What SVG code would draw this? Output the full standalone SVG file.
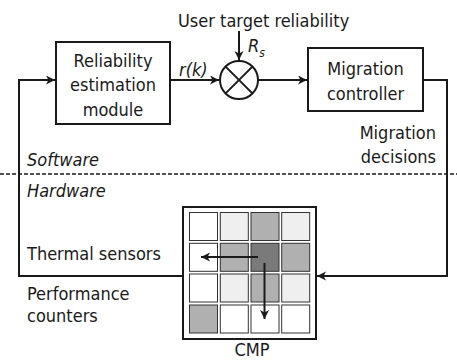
<svg xmlns="http://www.w3.org/2000/svg" width="457" height="360" viewBox="0 0 457 360">
<defs>
<marker id="ah" markerUnits="userSpaceOnUse" markerWidth="10" markerHeight="10" refX="9" refY="4.5" orient="auto">
<path d="M0,0 L9,4.5 L0,9 L2.5,4.5 z" fill="#1a1a1a"/>
</marker>
</defs>
<style>
text{font-family:"DejaVu Sans Condensed","DejaVu Sans",sans-serif;font-stretch:condensed;font-size:18px;fill:#1a1a1a}
.it{font-style:italic}
.c{text-anchor:middle}
.box{fill:#fff;stroke:#1a1a1a;stroke-width:2}
.ln{fill:none;stroke:#1a1a1a;stroke-width:2}
.cell{stroke:#333;stroke-width:1}
.w{fill:#fff}.l{fill:#efefef}.m{fill:#b0b0b0}.d{fill:#7a7a7a}
</style>
<text x="178" y="27">User target reliability</text>
<g id="reliability">
<rect class="box" x="56" y="42" width="114" height="82"/>
<text class="c" x="113" y="66.5">Reliability</text>
<text class="c" x="113" y="91">estimation</text>
<text class="c" x="113" y="115.5">module</text>
</g>
<g id="comparator">
<circle class="ln" cx="239" cy="80" r="19"/>
<path class="ln" d="M225.6,66.6 L252.4,93.4 M252.4,66.6 L225.6,93.4"/>
</g>
<g id="migration">
<rect class="box" x="308" y="48" width="115" height="63"/>
<text class="c" x="365.5" y="75">Migration</text>
<text class="c" x="365.5" y="100">controller</text>
</g>
<g id="cmp">
<rect class="box" x="183" y="207" width="133" height="132"/>
<rect class="cell w" x="189.5" y="212.5" width="28" height="28"/>
<rect class="cell l" x="220.3" y="212.5" width="28" height="28"/>
<rect class="cell m" x="251" y="212.5" width="28" height="28"/>
<rect class="cell l" x="281.7" y="212.5" width="28" height="28"/>
<rect class="cell w" x="189.5" y="243.3" width="28" height="28"/>
<rect class="cell m" x="220.3" y="243.3" width="28" height="28"/>
<rect class="cell d" x="251" y="243.3" width="28" height="28"/>
<rect class="cell m" x="281.7" y="243.3" width="28" height="28"/>
<rect class="cell w" x="189.5" y="274" width="28" height="28"/>
<rect class="cell l" x="220.3" y="274" width="28" height="28"/>
<rect class="cell m" x="251" y="274" width="28" height="28"/>
<rect class="cell l" x="281.7" y="274" width="28" height="28"/>
<rect class="cell m" x="189.5" y="305" width="28" height="28"/>
<rect class="cell w" x="220.3" y="305" width="28" height="28"/>
<rect class="cell w" x="251" y="305" width="28" height="28"/>
<rect class="cell w" x="281.7" y="305" width="28" height="28"/>
<path class="ln" d="M258,257 L201,257" marker-end="url(#ah)"/>
<path class="ln" d="M264.5,263 L264.5,319" marker-end="url(#ah)"/>
<text class="c" x="252" y="356">CMP</text>
</g>
<g id="connectors">
<path class="ln" d="M170,80 L219,80" marker-end="url(#ah)"/>
<path class="ln" d="M239,31 L239,60" marker-end="url(#ah)"/>
<path class="ln" d="M258,80 L307,80" marker-end="url(#ah)"/>
<path class="ln" d="M423,80 L447,80 L447,276 L317,276" marker-end="url(#ah)"/>
<path class="ln" d="M183,276 L19,276 L19,80 L55,80" marker-end="url(#ah)"/>
<path d="M0,174 L457,174" fill="none" stroke="#1a1a1a" stroke-width="1.5" stroke-dasharray="4,2"/>
</g>
<text class="it" x="179" y="76">r(k)</text>
<text class="it" x="248" y="52">R<tspan font-size="12" dy="5">s</tspan></text>
<text style="text-anchor:end" x="436" y="139">Migration</text>
<text style="text-anchor:end" x="436" y="163">decisions</text>
<text class="it" x="27" y="166">Software</text>
<text class="it" x="27" y="197">Hardware</text>
<text x="27" y="260">Thermal sensors</text>
<text x="27" y="300">Performance</text>
<text x="27" y="322">counters</text>
</svg>
